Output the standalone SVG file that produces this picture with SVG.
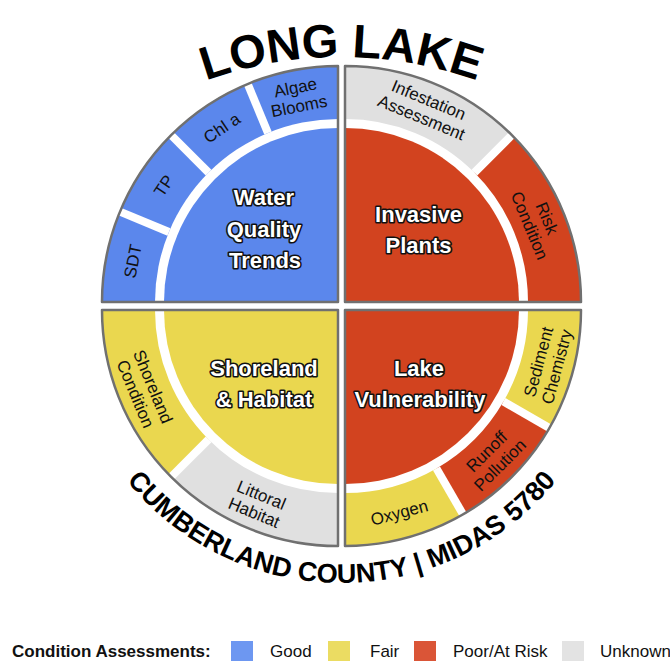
<svg xmlns="http://www.w3.org/2000/svg" width="670" height="661" viewBox="0 0 670 661">
<style>
.blue{fill:#5B87EC}.red{fill:#D2431F}.yel{fill:#EAD74F}.gray{fill:#E0E0E0}.white{fill:#FFFFFF}
.outline{fill:none;stroke:#707070;stroke-width:2.5;stroke-linejoin:round}
.sep{stroke:#FFFFFF;stroke-width:8;stroke-linecap:butt}
.lbl{font-family:"Liberation Sans",Arial,sans-serif;font-size:17px;fill:#111;text-anchor:middle}
.big{font-family:"Liberation Sans",Arial,sans-serif;font-weight:bold;font-size:22px;fill:#FFFFFF;stroke:#111;stroke-width:3.2;stroke-linejoin:round;paint-order:stroke fill;text-anchor:middle}
.arc{font-family:"Liberation Sans",Arial,sans-serif;font-weight:bold;fill:#000}
.leg{font-family:"Liberation Sans",Arial,sans-serif;font-size:17px;fill:#111}
</style>
<defs>
<path id="titleArc" d="M -61.5 460 A 403 403 0 0 1 744.5 460"/>
<path id="bottomArc" d="M 64.5 306 A 277 277 0 0 0 618.5 306"/>
</defs>

<!-- Water Quality Trends quadrant -->
<g id="water-quality">
  <path class="blue" d="M 338 302 L 102 302 A 236 236 0 0 1 338 66 Z"/>
  <path class="white" d="M 338 302 L 155 302 A 183 183 0 0 1 338 119 Z"/>
  <path class="blue" d="M 338 302 L 164 302 A 174 174 0 0 1 338 128 Z"/>
  <text class="big" x="264" y="205">Water</text>
  <text class="big" x="264" y="237">Quality</text>
  <text class="big" x="265" y="268">Trends</text>
</g>
<g id="sdt"><g transform="translate(338,302) rotate(-78.75) translate(0,-209.5)"><text class="lbl" y="6.1">SDT</text></g></g>
<g id="tp"><g transform="translate(338,302) rotate(-56.25) translate(0,-209.5)"><text class="lbl" y="6.1">TP</text></g></g>
<g id="chla"><g transform="translate(338,302) rotate(-33.75) translate(0,-209.5)"><text class="lbl" y="6.1">Chl a</text></g></g>
<g id="algae"><g transform="translate(338,302) rotate(-11.25) translate(0,-209.5)"><text class="lbl" y="-3.4">Algae</text><text class="lbl" y="15.6">Blooms</text></g></g>

<!-- Invasive Plants quadrant -->
<g id="infestation">
  <path class="gray" d="M 345 66 A 236 236 0 0 1 511.88 135.12 L 474.40 172.60 A 183 183 0 0 0 345 119 Z"/>
  <g transform="translate(345,302) rotate(22.5) translate(0,-209.5)"><text class="lbl" y="-3.4">Infestation</text><text class="lbl" y="15.6">Assessment</text></g>
</g>
<g id="risk">
  <path class="red" d="M 511.88 135.12 A 236 236 0 0 1 581 302 L 528 302 A 183 183 0 0 0 474.40 172.60 Z"/>
  <g transform="translate(345,302) rotate(67.5) translate(0,-209.5)"><text class="lbl" y="-3.4">Risk</text><text class="lbl" y="15.6">Condition</text></g>
</g>
<g id="invasive-plants">
  <path class="red" d="M 345 302 L 345 128 A 174 174 0 0 1 519 302 Z"/>
  <text class="big" x="418.5" y="222">Invasive</text>
  <text class="big" x="418.5" y="253">Plants</text>
</g>

<!-- Lake Vulnerability quadrant -->
<g id="sediment">
  <path class="yel" d="M 581 310 A 236 236 0 0 1 549.38 428 L 503.48 401.5 A 183 183 0 0 0 528 310 Z"/>
  <g transform="translate(345,310) rotate(-75) translate(0,209.5)"><text class="lbl" y="-3.4">Sediment</text><text class="lbl" y="15.6">Chemistry</text></g>
</g>
<g id="runoff">
  <path class="red" d="M 549.38 428 A 236 236 0 0 1 463 514.38 L 436.5 468.48 A 183 183 0 0 0 503.48 401.5 Z"/>
  <g transform="translate(345,310) rotate(-45) translate(0,209.5)"><text class="lbl" y="-3.4">Runoff</text><text class="lbl" y="15.6">Pollution</text></g>
</g>
<g id="oxygen">
  <path class="yel" d="M 463 514.38 A 236 236 0 0 1 345 546 L 345 493 A 183 183 0 0 0 436.5 468.48 Z"/>
  <g transform="translate(345,310) rotate(-15) translate(0,209.5)"><text class="lbl" y="6.1">Oxygen</text></g>
</g>
<g id="lake-vulnerability">
  <path class="red" d="M 345 310 L 519 310 A 174 174 0 0 1 345 484 Z"/>
  <text class="big" x="419" y="376">Lake</text>
  <text class="big" x="420" y="407">Vulnerability</text>
</g>

<!-- Shoreland & Habitat quadrant -->
<g id="littoral">
  <path class="gray" d="M 338 546 A 236 236 0 0 1 171.12 476.88 L 208.60 439.40 A 183 183 0 0 0 338 493 Z"/>
  <g transform="translate(338,310) rotate(22.5) translate(0,209.5)"><text class="lbl" y="-3.4">Littoral</text><text class="lbl" y="15.6">Habitat</text></g>
</g>
<g id="shoreland-condition">
  <path class="yel" d="M 171.12 476.88 A 236 236 0 0 1 102 310 L 155 310 A 183 183 0 0 0 208.60 439.40 Z"/>
  <g transform="translate(338,310) rotate(67.5) translate(0,209.5)"><text class="lbl" y="-3.4">Shoreland</text><text class="lbl" y="15.6">Condition</text></g>
</g>
<g id="shoreland-habitat">
  <path class="yel" d="M 338 310 L 338 484 A 174 174 0 0 1 164 310 Z"/>
  <text class="big" x="264" y="376">Shoreland</text>
  <text class="big" x="264" y="407">&amp; Habitat</text>
</g>

<!-- separators and outlines -->
<g id="connectors">
  <line class="sep" x1="168.93" y1="231.97" x2="116.27" y2="210.16"/>
  <line class="sep" x1="208.60" y1="172.60" x2="168.29" y2="132.29"/>
  <line class="sep" x1="267.97" y1="132.93" x2="246.16" y2="80.27"/>
  <line class="sep" x1="474.40" y1="172.60" x2="514.71" y2="132.29"/>
  <line class="sep" x1="503.48" y1="401.5" x2="552.85" y2="430"/>
  <line class="sep" x1="436.5" y1="468.48" x2="465" y2="517.85"/>
  <line class="sep" x1="208.60" y1="439.40" x2="168.29" y2="479.71"/>
  <path class="outline" d="M 338 302 L 102 302 A 236 236 0 0 1 338 66 Z"/>
  <path class="outline" d="M 345 302 L 345 66 A 236 236 0 0 1 581 302 Z"/>
  <path class="outline" d="M 345 310 L 581 310 A 236 236 0 0 1 345 546 Z"/>
  <path class="outline" d="M 338 310 L 338 546 A 236 236 0 0 1 102 310 Z"/>
</g>

<!-- arched titles -->
<g id="title">
  <text class="arc" font-size="47"><textPath href="#titleArc" startOffset="50%" text-anchor="middle">LONG LAKE</textPath></text>
</g>
<g id="subtitle">
  <text class="arc" font-size="27"><textPath href="#bottomArc" startOffset="50%" text-anchor="middle">CUMBERLAND COUNTY | MIDAS 5780</textPath></text>
</g>

<!-- legend -->
<g id="legend">
  <text class="leg" x="12" y="657" font-weight="bold">Condition Assessments:</text>
  <rect x="231" y="641" width="22" height="20" fill="#6D97F1"/>
  <text class="leg" x="270" y="657">Good</text>
  <rect x="328" y="641" width="22" height="20" fill="#EBDC62"/>
  <text class="leg" x="370" y="657">Fair</text>
  <rect x="414" y="641" width="22" height="20" fill="#DA5537"/>
  <text class="leg" x="453" y="657">Poor/At Risk</text>
  <rect x="562" y="641" width="22" height="20" fill="#E3E3E3"/>
  <text class="leg" x="600" y="657" font-size="16">Unknown</text>
</g>
</svg>
